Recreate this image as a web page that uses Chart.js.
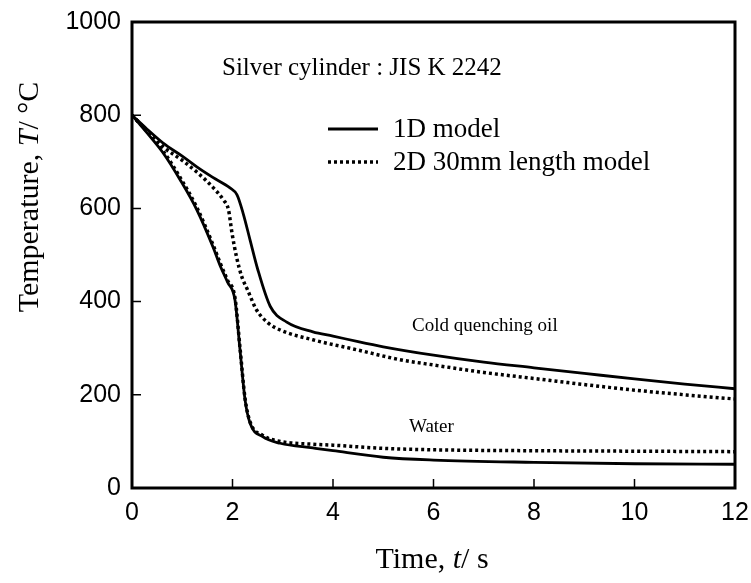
<!DOCTYPE html>
<html>
<head>
<meta charset="utf-8">
<script src="https://cdn.jsdelivr.net/npm/chart.js@4.4.1/dist/chart.umd.min.js"></script>
<style>
  body { margin: 0; background: #fff; }
  #wrap { width: 751px; height: 583px; }
</style>
</head>
<body>
<div id="wrap"><canvas id="coolingChart"></canvas></div>
<script>
// cooling curves, time in s, temperature in degC
const oil1dTime  = [0, 0.3, 0.62, 1.0, 1.29, 1.6, 1.95, 2.09, 2.21, 2.35, 2.5, 2.75, 3.08, 3.6, 4, 4.5, 5, 6, 7, 8, 9, 10, 11, 12];
const oil1dTemp  = [800, 770, 740, 712, 689, 667, 644, 629, 590, 532, 470, 390, 356, 335, 326, 314, 303, 285, 270, 258, 246, 234, 223, 213];
const oil2dTime  = [0, 0.3, 0.62, 1.0, 1.29, 1.62, 1.82, 1.92, 1.99, 2.08, 2.18, 2.3, 2.48, 2.7, 2.95, 3.6, 4.5, 5.3, 6, 7, 8, 9, 10, 11, 12];
const oil2dTemp  = [800, 766, 732, 703, 678, 644, 618, 597, 547, 496, 455, 425, 382, 355, 339, 318, 296, 276, 264, 248, 235, 222, 210, 200, 191];
const water1dTime = [0, 0.3, 0.62, 0.96, 1.29, 1.62, 1.75, 1.9, 2.05, 2.15, 2.25, 2.35, 2.6, 2.95, 3.6, 4, 5, 6, 8, 10, 12];
const water1dTemp = [800, 762, 719, 661, 597, 515, 478, 442, 403, 296, 189, 139, 110, 96, 86, 80, 66, 60, 55, 52, 51];
const water2dTime = [0, 0.3, 0.62, 0.96, 1.29, 1.62, 1.75, 1.9, 2.05, 2.15, 2.25, 2.35, 2.6, 2.95, 3.6, 4, 5, 6, 8, 10, 12];
const water2dTemp = [800, 765, 723, 666, 602, 520, 484, 446, 408, 300, 192, 142, 113, 100, 94, 92, 85, 82, 80, 79, 78];

const xTicks = [0, 2, 4, 6, 8, 10, 12];
const yTicks = [0, 200, 400, 600, 800, 1000];

const SOLID = [];
const DOTTED = [3, 3];

const toPoints = (xs, ys) => xs.map((x, i) => ({ x: x, y: ys[i] }));

const curve = (xs, ys, dash) => ({
  data: toPoints(xs, ys),
  showLine: true,
  borderColor: '#000',
  borderWidth: dash.length ? 3.5 : 2.8,
  borderDash: dash,
  pointRadius: 0,
  cubicInterpolationMode: 'monotone',
  fill: false
});

// draws runs of text with their own font style, centred on (x, y)
function drawMixed(ctx, parts, x, y, size) {
  const widths = parts.map(p => {
    ctx.font = p[1] + size + 'px "Liberation Serif"';
    return ctx.measureText(p[0]).width;
  });
  const total = widths.reduce((s, w) => s + w, 0);
  let cx = x - total / 2;
  ctx.textAlign = 'left';
  parts.forEach((p, i) => {
    ctx.font = p[1] + size + 'px "Liberation Serif"';
    ctx.fillText(p[0], cx, y);
    cx += widths[i];
  });
}

// frame, inward ticks, titles and labels
const decorations = {
  id: 'decorations',
  afterDraw(chart) {
    const ctx = chart.ctx;
    const a = chart.chartArea;
    const xs = chart.scales.x, ys = chart.scales.y;
    ctx.save();
    ctx.strokeStyle = '#000';
    ctx.lineWidth = 1.5;
    ctx.beginPath();
    xTicks.slice(1, -1).forEach(v => {
      const px = xs.getPixelForValue(v);
      ctx.moveTo(px, a.bottom);
      ctx.lineTo(px, a.bottom - 9);
    });
    yTicks.slice(1, -1).forEach(v => {
      const py = ys.getPixelForValue(v);
      ctx.moveTo(a.left, py);
      ctx.lineTo(a.left + 9, py);
    });
    ctx.stroke();

    ctx.lineWidth = 3;
    ctx.strokeRect(a.left, a.top, a.right - a.left, a.bottom - a.top);

    ctx.fillStyle = '#000';
    ctx.textBaseline = 'middle';

    // axis titles
    drawMixed(ctx, [['Time, ', ''], ['t', 'italic '], ['/ s', '']], 432, 560, 30);
    ctx.save();
    ctx.translate(30, 197);
    ctx.rotate(-Math.PI / 2);
    drawMixed(ctx, [['Temperature, ', ''], ['T', 'italic '], ['/ °C', '']], 0, 0, 30);
    ctx.restore();

    // notes
    ctx.textAlign = 'left';
    ctx.font = '25px "Liberation Serif"';
    ctx.fillText('Silver cylinder : JIS K 2242', 222, 68);
    ctx.font = '27px "Liberation Serif"';
    ctx.fillText('1D model', 393, 130);
    ctx.fillText('2D 30mm length model', 393, 163);
    ctx.font = '19px "Liberation Serif"';
    ctx.fillText('Cold quenching oil', 412, 326);
    ctx.fillText('Water', 409, 427);

    // legend samples
    ctx.beginPath();
    ctx.lineWidth = 2.8;
    ctx.setLineDash(SOLID);
    ctx.moveTo(328, 129);
    ctx.lineTo(378, 129);
    ctx.stroke();
    ctx.beginPath();
    ctx.lineWidth = 3.5;
    ctx.setLineDash(DOTTED);
    ctx.moveTo(328, 162);
    ctx.lineTo(378, 162);
    ctx.stroke();
    ctx.restore();
  }
};

const ctx = document.getElementById('coolingChart').getContext('2d');
new Chart(ctx, {
  type: 'scatter',
  data: {
    datasets: [
      curve(oil1dTime, oil1dTemp, SOLID),
      curve(oil2dTime, oil2dTemp, DOTTED),
      curve(water1dTime, water1dTemp, SOLID),
      curve(water2dTime, water2dTemp, DOTTED)
    ]
  },
  options: {
    responsive: true,
    maintainAspectRatio: false,
    animation: false,
    layout: { padding: { left: 0, right: 16, top: 22, bottom: 0 } },
    plugins: { legend: { display: false }, tooltip: { enabled: false } },
    scales: {
      x: {
        type: 'linear', min: 0, max: 12,
        afterBuildTicks: s => { s.ticks = xTicks.map(v => ({ value: v })); },
        afterFit: s => { s.height = 95; s.paddingLeft = 0; s.paddingRight = 0; },
        grid: { display: false, drawTicks: false },
        border: { display: false },
        ticks: { color: '#000', padding: 10, callback: v => String(v), font: { family: 'Liberation Sans', size: 25 } }
      },
      y: {
        min: 0, max: 1000,
        afterBuildTicks: s => { s.ticks = yTicks.map(v => ({ value: v })); },
        afterFit: s => { s.width = 132; s.paddingTop = 0; s.paddingBottom = 0; },
        grid: { display: false, drawTicks: false },
        border: { display: false },
        ticks: { color: '#000', padding: 11, callback: v => String(v), font: { family: 'Liberation Sans', size: 25 } }
      }
    }
  },
  plugins: [decorations]
});
</script>
</body>
</html>
